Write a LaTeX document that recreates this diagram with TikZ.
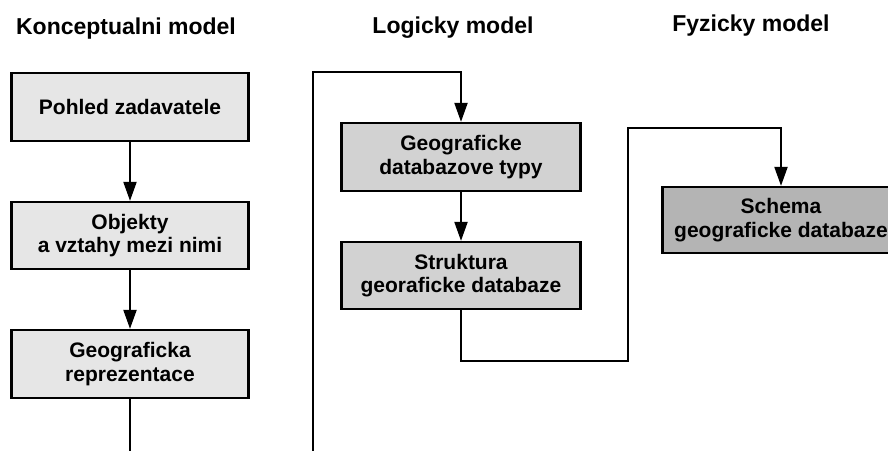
\documentclass[tikz,border=0pt]{standalone}
\usepackage{fontspec}
\setmainfont{Liberation Sans}
\usetikzlibrary{arrows.meta}
\definecolor{lightbox}{HTML}{E6E6E6}
\definecolor{midbox}{HTML}{D2D2D2}
\definecolor{darkbox}{HTML}{B4B4B4}
\begin{document}
\begin{tikzpicture}[x=1pt,y=-1pt,
  boxstyle/.style={draw=black, line width=2.3pt, rectangle, align=center,
    minimum width=237pt, minimum height=67pt, inner sep=0pt,
    font=\fontsize{21}{23.5}\selectfont\bfseries},
  titlestyle/.style={anchor=base, inner sep=0pt, font=\fontsize{23}{26}\selectfont\bfseries},
  link/.style={line width=2.1pt, draw=black},
  arrowlink/.style={link, -{Triangle[length=19pt,width=13pt]}}]
\useasboundingbox (0,0) rectangle (888,450);
\clip (0,0) rectangle (888,450);
% titles
\node[titlestyle] (t1) at (126,34) {Konceptualni model};
\node[titlestyle] (t2) at (453,33) {Logicky model};
\node[titlestyle] (t3) at (751,31) {Fyzicky model};
% boxes
\node[boxstyle, fill=lightbox, minimum height=68pt] (b1) at (130,107) {Pohled zadavatele};
\node[boxstyle, fill=lightbox] (b2) at (130,235.5) {Objekty\\a vztahy mezi nimi};
\node[boxstyle, fill=lightbox, minimum height=68pt] (b3) at (130,364) {Geograficka\\reprezentace};
\node[boxstyle, fill=midbox, minimum width=239pt, minimum height=68pt] (b4) at (461,157) {Geograficke\\databazove typy};
\node[boxstyle, fill=midbox, minimum width=239pt] (b5) at (461,275.5) {Struktura\\georaficke databaze};
\node[boxstyle, fill=darkbox, minimum width=237pt, minimum height=66pt] (b6) at (781,220) {Schema\\geograficke databaze};
% free ends and bends
\coordinate (e1) at (130,452);
\coordinate (e2) at (313,452);
\coordinate (c2) at (313,72);
\coordinate (k1) at (628,361);
\coordinate (k2) at (628,128);
% connectors
\draw[arrowlink] (b1.south) -- (b2.north);
\draw[arrowlink] (b2.south) -- (b3.north);
\draw[link] (b3.south) -- (e1);
\draw[arrowlink] (e2) -- (c2) -| (b4.north);
\draw[arrowlink] (b4.south) -- (b5.north);
\draw[arrowlink] (b5.south) |- (k1) -- (k2) -| (b6.north);
\end{tikzpicture}
\end{document}
